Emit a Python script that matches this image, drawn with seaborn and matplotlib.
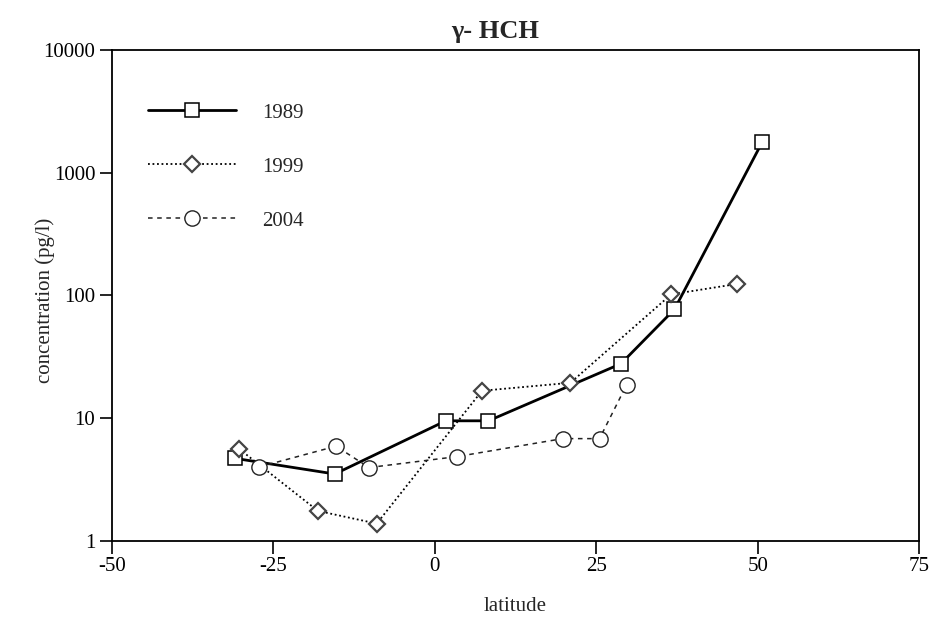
import pandas as pd
import seaborn as sns
import matplotlib.pyplot as plt

sns.set_style("ticks")
plt.rcParams['font.family'] = ['Liberation Serif', 'DejaVu Serif']

lat_1989 = [-31, -15.5, 1.7, 8.3, 28.8, 37.1, 50.7]
conc_1989 = [4.7, 3.5, 9.5, 9.5, 27.7, 77, 1780]

lat_1999 = [-30.3, -18.1, -9.0, 7.3, 21.0, 36.6, 46.8]
conc_1999 = [5.6, 1.75, 1.38, 16.7, 19.4, 102, 124]

lat_2004 = [-27.2, -15.3, -10.2, 3.4, 19.8, 25.5, 29.7]
conc_2004 = [4.0, 5.9, 3.95, 4.85, 6.8, 6.8, 18.7]

x_ticks = [-50, -25, 0, 25, 50, 75]
y_ticks = [1, 10, 100, 1000, 10000]
y_tick_labels = ["1", "10", "100", "1000", "10000"]

d89 = pd.DataFrame({"latitude": lat_1989, "conc": conc_1989})
d99 = pd.DataFrame({"latitude": lat_1999, "conc": conc_1999})
d04 = pd.DataFrame({"latitude": lat_2004, "conc": conc_2004})

fig = plt.figure(figsize=(9.37, 6.18), dpi=100)
ax = fig.add_axes([0.1195, 0.125, 0.8615, 0.794])

sns.lineplot(data=d89, x="latitude", y="conc", ax=ax, color="black",
             linestyle="-", linewidth=2.0, marker="s", markersize=10,
             markerfacecolor="white", markeredgecolor="black",
             markeredgewidth=1.1, label="1989")
sns.lineplot(data=d99, x="latitude", y="conc", ax=ax, color="black",
             linestyle=(0, (1, 1.5)), linewidth=1.3, marker="D", markersize=8,
             markerfacecolor="white", markeredgecolor="#444444",
             markeredgewidth=1.6, label="1999")
sns.lineplot(data=d04, x="latitude", y="conc", ax=ax, color="#222222",
             linestyle=(0, (3, 3)), linewidth=1.1, marker="o", markersize=11,
             markerfacecolor="white", markeredgecolor="#222222",
             markeredgewidth=1.0, label="2004")

ax.set_yscale("log")
ax.set_xlim(-50, 75)
ax.set_ylim(1, 10000)
ax.set_xticks(x_ticks)
ax.set_xticklabels([str(t) for t in x_ticks])
ax.set_yticks(y_ticks)
ax.set_yticklabels(y_tick_labels)
ax.minorticks_off()
ax.tick_params(axis="both", direction="out", length=9, width=1.2,
               labelsize=15, colors="black", pad=3)
for s in ax.spines.values():
    s.set_linewidth(1.3)
    s.set_color("black")

ax.set_xlabel("latitude", fontsize=15, labelpad=15)
ax.set_ylabel("concentration (pg/l)", fontsize=15)
ax.yaxis.set_label_coords(-0.071, 0.49)
ax.set_title("γ- HCH", fontsize=19, fontweight="bold", pad=9, x=0.475)

ax.legend(loc="upper left", bbox_to_anchor=(0.022, 0.93), frameon=False,
          fontsize=15, handlelength=4.2, labelspacing=1.65, handletextpad=1.25)

fig.savefig("out.png", dpi=100)
